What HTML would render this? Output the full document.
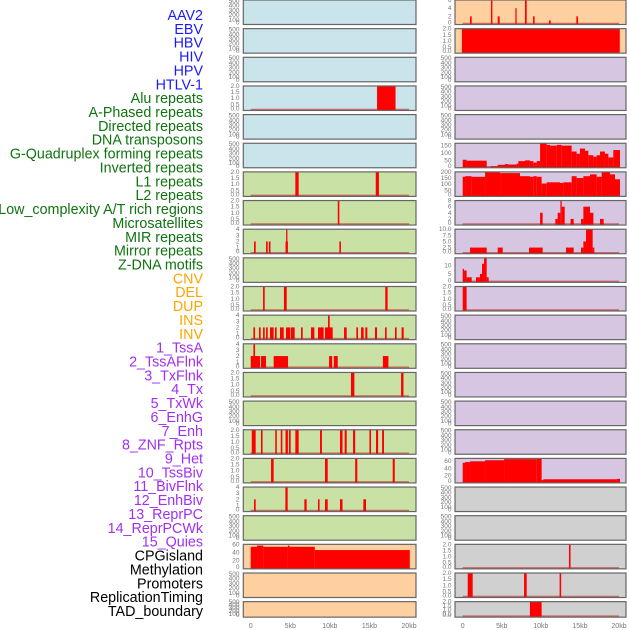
<!DOCTYPE html>
<html><head><meta charset="utf-8"><style>
body{margin:0;background:#fff;width:630px;height:630px;overflow:hidden;font-family:"Liberation Sans",sans-serif}
svg{position:absolute;left:0;top:0}
</style></head><body>
<svg id="chart" width="630" height="630"></svg>
<script>
const labels=["AAV2","EBV","HBV","HIV","HPV","HTLV-1","Alu repeats","A-Phased repeats","Directed repeats","DNA transposons","G-Quadruplex forming repeats","Inverted repeats","L1 repeats","L2 repeats","Low_complexity A/T rich regions","Microsatellites","MIR repeats","Mirror repeats","Z-DNA motifs","CNV","DEL","DUP","INS","INV","1_TssA","2_TssAFlnk","3_TxFlnk","4_Tx","5_TxWk","6_EnhG","7_Enh","8_ZNF_Rpts","9_Het","10_TssBiv","11_BivFlnk","12_EnhBiv","13_ReprPC","14_ReprPCWk","15_Quies","CPGisland","Methylation","Promoters","ReplicationTiming","TAD_boundary"];
const labelGroups=[0,0,0,0,0,0,1,1,1,1,1,1,1,1,1,1,1,1,1,2,2,2,2,2,3,3,3,3,3,3,3,3,3,3,3,3,3,3,3,4,4,4,4,4];
const groupColors=["#1a1aff","#0f740f","#ffa500","#a030f0","#000"];
const panelBg=["#c9e4eb","#c9e1a5","#ffd09f","#d6c6e2","#d0d0d0"];
const leftBg=[0,0,0,0,0,0,1,1,1,1,1,1,1,1,1,1,1,1,1,2,2,2];
const rightBg=[2,2,3,3,3,3,3,3,3,3,3,3,3,3,3,3,3,4,4,4,4,4];
const xTicks=[0,5,10,15,20];
const xTickLabels=["0","5kb","10kb","15kb","20kb"];
const T2=[0,0.5,1,1.5,2], T2L=["0.0","0.5","1.0","1.5","2.0"];
const T4=[0,1,2,3,4], T500=[0,100,200,300,400,500];
const leftPanels=[
 [520,T500,null,[]],[520,T500,null,[]],[520,T500,null,[]],
 [2,T2,T2L,[[15.96,18.3,2]]],
 [520,T500,null,[]],[520,T500,null,[]],
 [2,T2,T2L,[[5.64,6.06,2],[15.8,16.2,2]]],
 [2,T2,T2L,[[11.0,11.2,2]]],
 [4,T4,null,[[0.42,0.63,2],[1.94,2.15,2],[2.3,2.5,2],[4.4,4.7,2],[4.48,4.64,4],[11.2,11.4,2]]],
 [520,T500,null,[]],
 [2,T2,T2L,[[1.56,1.77,2],[4.2,4.55,2],[17.0,17.3,2]]],
 [4,T4,null,[[0.34,0.55,2],[1.05,1.26,2],[1.56,1.77,2],[1.94,2.15,2],[2.44,2.9,2],[3.07,3.28,2],[3.7,4.17,2],[4.46,4.97,2],[5.05,5.56,2],[6.36,6.57,2],[7.62,8.04,2],[8.5,9.22,2],[9.39,10.36,2],[9.77,9.98,4],[11.79,12.13,2],[13.35,13.56,2],[13.94,14.27,2],[14.48,14.74,2],[15.7,15.96,2],[16.97,17.18,2],[18.23,18.44,2],[19.07,19.33,2]]],
 [4,T4,null,[[0,1.18,2],[0.34,0.55,4],[1.3,1.94,2],[2.9,4.72,2],[9.9,10.3,2],[10.5,11.0,2],[16.7,17.4,2]]],
 [2,T2,T2L,[[12.67,13.1,2],[19.0,19.3,2]]],
 [520,T500,null,[]],
 [2,T2,T2L,[[0.13,0.63,2],[1.3,1.5,2],[3.1,3.3,2],[3.8,4.0,2],[4.4,4.7,2],[4.84,5.05,2],[5.64,6.06,2],[8.76,9.0,2],[11.28,11.6,2],[11.87,12.13,2],[12.93,13.2,2],[15.0,15.2,2],[15.83,16.1,2],[16.6,16.84,2]]],
 [2,T2,T2L,[[2.57,2.9,2],[9.39,9.73,2],[13.2,13.47,2],[17.94,18.2,2]]],
 [4,T4,null,[[0.42,0.63,2],[4.38,4.67,4],[6.78,7.07,2],[8.5,8.7,2],[9.39,9.73,2],[11.28,11.6,2],[14.23,14.57,2]]],
 [520,T500,null,[]],
 [60,[0,20,40,60],null,[[0,0.8,54],[0.8,1.6,57],[1.6,4.7,54],[4.7,4.9,57],[4.9,8.1,54],[8.1,20.1,46]]],
 [520,T500,null,[]],[520,T500,null,[]]
];
const rightPanels=[
 [6,[0,2,4,6],null,[[0.94,1.15,2],[3.62,3.8,6],[4.48,4.73,2],[6.74,6.9,4],[7.97,8.19,6],[9.0,9.2,2],[11.04,11.26,1],[14.54,14.75,2]]],
 [2,T2,T2L,[[-0.1,20.1,2]]],
 [520,T500,null,[]],[520,T500,null,[]],[520,T500,null,[]],
 [166,[0,50,100,150],null,[[0,0.5,54],[0.5,3.07,48],[3.62,4.48,10],[4.48,5.42,20],[5.42,5.84,25],[5.84,6.9,22],[6.9,7.12,28],[7.12,7.97,45],[7.97,8.6,50],[8.6,9.04,45],[9.04,9.47,35],[9.47,9.9,45],[9.9,10.75,165],[10.75,11.17,155],[11.17,12.03,150],[12.03,12.67,155],[12.67,13.94,150],[13.94,14.58,110],[14.58,15.0,95],[15.0,15.65,130],[15.65,16.08,115],[16.08,16.72,85],[16.72,17.14,75],[17.14,17.57,85],[17.57,18.2,110],[18.2,18.64,95],[18.64,19.27,70],[19.27,20.13,120]]],
 [200,[0,50,100,150,200],null,[[0,0.3,160],[0.3,1.15,165],[1.15,2.86,160],[2.86,4.78,200],[4.78,7.33,190],[7.33,8.61,165],[8.61,9.04,160],[9.04,9.47,165],[9.47,10.1,160],[10.1,10.75,105],[10.75,12.45,115],[12.45,12.88,110],[12.88,13.94,115],[13.94,14.58,165],[14.58,15.44,150],[15.44,16.29,165],[16.29,17.14,180],[17.14,17.78,160],[17.78,18.85,200],[18.85,19.49,180],[19.49,20.13,140]]],
 [8,[0,2,4,6,8],null,[[9.9,10.23,4],[11.85,12.15,2],[12.15,12.5,4],[12.5,12.67,8],[12.67,13.05,6],[13.8,14.2,2],[15.14,15.44,2],[15.44,16.29,6],[16.29,16.72,4],[17.57,18.04,2]]],
 [10,[0,2.5,5,7.5,10],["0.0","2.5","5.0","7.5","10.0"],[[0.94,3.07,2.5],[4.48,5.12,2.5],[8.49,10.23,2.5],[13.22,14.2,2.5],[15.14,15.44,2.5],[15.44,15.78,5],[15.78,16.63,10],[16.63,16.84,2.5]]],
 [14.5,[0,5,10],null,[[0,0.17,8],[0.17,0.5,7],[0.5,1.15,3],[1.7,2.2,3],[2.2,2.47,5],[2.47,2.73,11],[2.73,3.07,14.5],[3.07,3.33,3]]],
 [2,T2,T2L,[[0,0.5,2]]],
 [520,T500,null,[]],[520,T500,null,[]],[520,T500,null,[]],[520,T500,null,[]],[520,T500,null,[]],
 [67,[0,20,40,60],null,[[0,0.3,55],[0.3,0.94,57],[0.94,2.86,59],[2.86,5.29,62],[5.29,9.47,65],[9.47,10.1,68],[10.1,10.32,8],[10.32,19.7,10],[19.7,20.13,11]]],
 [520,T500,null,[]],[520,T500,null,[]],
 [2,T2,T2L,[[13.6,13.8,2]]],
 [2,T2,T2L,[[0.64,1.28,2],[7.85,8.19,2],[12.4,12.6,2]]],
 [2,T2,T2L,[[8.6,10.1,2]]]
];
const NS="http://www.w3.org/2000/svg";
const svg=document.getElementById('chart');
function mk(tag,attrs,parent){const e=document.createElementNS(NS,tag);for(const k in attrs)e.setAttribute(k,attrs[k]);(parent||svg).appendChild(e);return e;}
labels.forEach((t,i)=>{
 const e=mk('text',{x:203,y:20+i*13.86,'text-anchor':'end','font-size':'14.3px',fill:groupColors[labelGroups[i]]});
 e.textContent=t;
 
 
});
const cols=[{x0:243.3,x1:416,k0:250.7,k20:409,tx:239.5,panels:leftPanels,bg:leftBg,name:'left'},
            {x0:455,x1:626,k0:462.7,k20:619,tx:451.5,panels:rightPanels,bg:rightBg,name:'right'}];
cols.forEach(c=>{
 const xs=kb=>c.k0+(c.k20-c.k0)*kb/20;
 c.panels.forEach((p,i)=>{
  const top=i*28.65, h=(i===21?15.5:24.5), bot=top+h;
  const [ymax,ticks,tl,bars]=p;
  const ys=v=>bot-(bot-top)*v/ymax;
  const g=mk('g',{});
  
  
  const r=mk('rect',{x:c.x0,y:top,width:c.x1-c.x0,height:h,fill:panelBg[c.bg[i]]},g);
  
  
  if(bars.length){
   const bl=mk('line',{x1:xs(0),x2:xs(20),y1:bot-1,y2:bot-1,stroke:'rgba(200,30,30,0.6)','stroke-width':1.5},g);
   
   
  }
  bars.forEach(b=>{
   const x=xs(Math.max(b[0],-0.1)), w=Math.max(xs(b[1])-x,1.2), y=ys(b[2]);
   const e=mk('rect',{x:x,y:y,width:w,height:bot-y,fill:'#ff0000'},g);
   
   
  });
  mk('rect',{x:c.x0,y:top,width:c.x1-c.x0,height:h,fill:'none',stroke:'#666','stroke-width':1.2},g);
  ticks.forEach((t,j)=>{
   let y=ys(t)+2; if(j===0)y=Math.min(y,bot);
   const e=mk('text',{x:c.tx,y:y,'text-anchor':'end','font-size':'6.5px',fill:'#777'},g);
   e.textContent=tl?tl[j]:String(t);
   
   
  });
 });
 xTicks.forEach((t,j)=>{
  const e=mk('text',{x:xs(t),y:628,'text-anchor':'middle','font-size':'7px',fill:'#777'});
  e.textContent=xTickLabels[j];
  
  
 });
});
</script>
</body></html>
